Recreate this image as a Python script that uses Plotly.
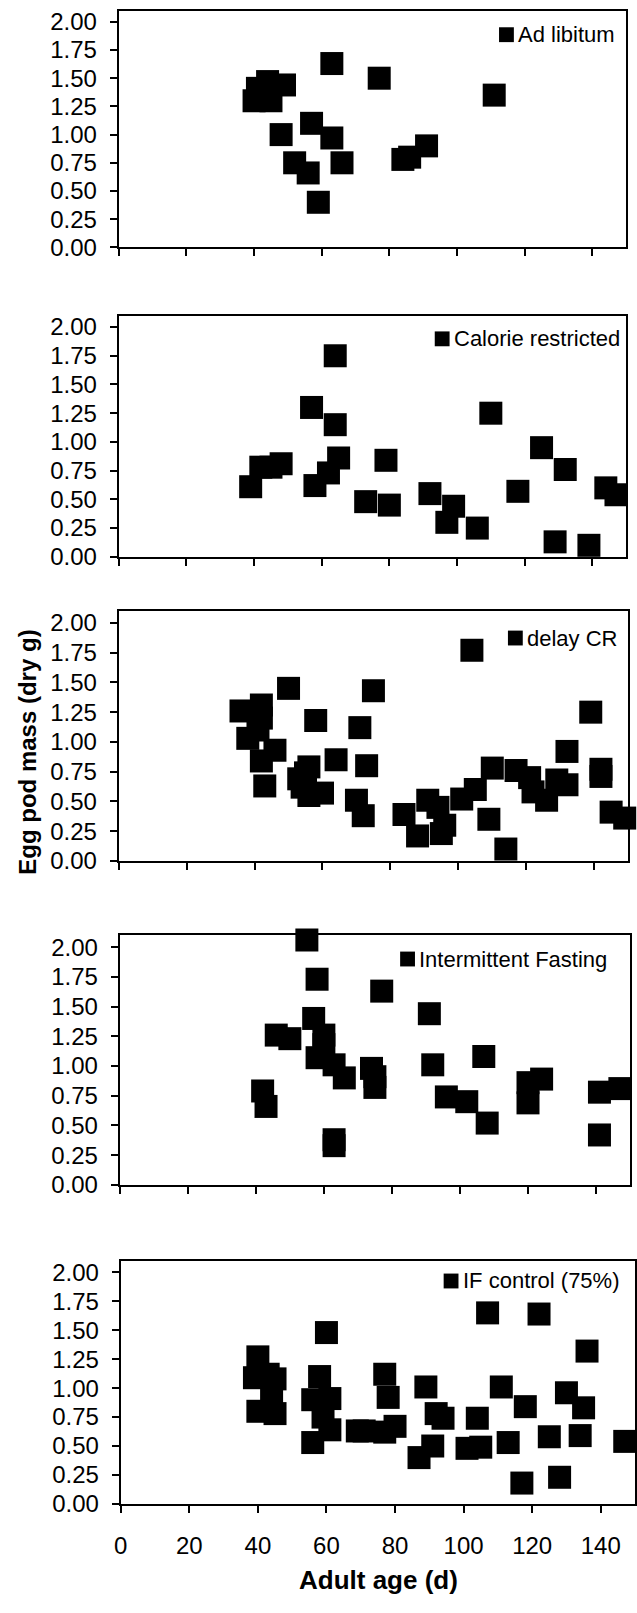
import plotly.graph_objects as go

# ---------------- data ----------------
series_names = ["Ad libitum", "Calorie restricted", "delay CR", "Intermittent Fasting", "IF control (75%)"]

adlib_x = [40, 41, 44, 45, 49, 43, 63, 77, 111, 48, 57, 63, 52, 56, 66, 59, 84, 86, 91]
adlib_y = [1.30, 1.41, 1.47, 1.30, 1.44, 1.36, 1.63, 1.50, 1.35, 1.00, 1.10, 0.97, 0.75, 0.66, 0.75, 0.40, 0.78, 0.80, 0.90]

cr_x = [39, 42, 45, 48, 57, 64, 64, 65, 62, 58, 73, 79, 80, 92, 99, 97, 106, 110, 118, 125, 129, 132, 139, 144, 147]
cr_y = [0.61, 0.78, 0.78, 0.81, 1.30, 1.75, 1.15, 0.86, 0.73, 0.62, 0.48, 0.84, 0.45, 0.55, 0.44, 0.30, 0.25, 1.25, 0.57, 0.95, 0.13, 0.76, 0.10, 0.60, 0.54]

dcr_x = [36, 42, 38, 42, 41, 42, 46, 43, 50, 58, 64, 71, 73, 75, 53, 54, 56, 56, 60, 55, 70, 72,
         104, 84, 88, 91, 94, 96, 95, 101, 105, 109, 110, 114, 117, 121, 122, 126, 129, 132, 132,
         139, 142, 142, 145, 149]
dcr_y = [1.26, 1.31, 1.03, 1.20, 1.10, 0.84, 0.93, 0.63, 1.45, 1.18, 0.85, 1.12, 0.80, 1.43, 0.69, 0.62, 0.79, 0.55, 0.57, 0.74, 0.51, 0.38,
         1.77, 0.39, 0.21, 0.51, 0.45, 0.30, 0.23, 0.52, 0.60, 0.35, 0.78, 0.10, 0.76, 0.70, 0.58, 0.51, 0.68, 0.64, 0.92,
         1.25, 0.77, 0.71, 0.41, 0.36]

if_x = [55, 58, 57, 60, 60, 58, 63, 66, 42, 43, 46, 50, 63, 63, 77, 74, 75, 75, 91, 92, 96, 102, 107, 108, 120, 120, 124, 141, 147, 141]
if_y = [2.06, 1.73, 1.40, 1.26, 1.18, 1.07, 1.01, 0.90, 0.79, 0.66, 1.26, 1.23, 0.38, 0.33, 1.63, 0.98, 0.91, 0.82, 1.44, 1.01, 0.74, 0.70, 1.08, 0.52, 0.86, 0.69, 0.89, 0.78, 0.81, 0.42]

ifc_x = [40, 39, 45, 43, 44, 40, 45, 60, 58, 56, 61, 61, 59, 56, 69, 71, 77, 78, 77, 80, 89, 92, 94, 87, 91,
         101, 105, 104, 107, 122, 111, 113, 118, 117, 125, 128, 130, 135, 136, 134, 147]
ifc_y = [1.27, 1.09, 1.08, 1.12, 0.92, 0.80, 0.78, 1.48, 1.10, 0.90, 0.91, 0.64, 0.75, 0.53, 0.63, 0.63, 1.12, 0.92, 0.62, 0.67, 1.01, 0.78, 0.74, 0.40, 0.50,
         0.48, 0.49, 0.74, 1.65, 1.64, 1.01, 0.53, 0.84, 0.18, 0.58, 0.23, 0.96, 0.83, 1.32, 0.59, 0.54]

xs = [adlib_x, cr_x, dcr_x, if_x, ifc_x]
ys = [adlib_y, cr_y, dcr_y, if_y, ifc_y]

y_ticks = [0, 0.25, 0.5, 0.75, 1.0, 1.25, 1.5, 1.75, 2.0]
x_ticks = [0, 20, 40, 60, 80, 100, 120, 140]

# ---------------- layout geometry (pixels) ----------------
W, H = 637, 1613
# (left, right, top, bottom) of each plot area
boxes = [(113, 626, 8.6, 247.7),
         (113, 626, 316.5, 560),
         (113, 628, 614.7, 867),
         (114, 630, 942, 1194),
         (115, 635, 1270.6, 1516)]
# legend key: (square centre x px, centre y px)
leg_pos = [(505, 33), (440, 340), (514, 642), (405, 966), (449, 1291)]
SQ = 15

FONT = "Liberation Sans, Arial, sans-serif"

fig = go.Figure()
layout = dict(width=W, height=H, margin=dict(l=0, r=0, t=0, b=0),
              paper_bgcolor="white", plot_bgcolor="white", showlegend=False)

shapes = []
annotations = []
for i in range(5):
    n = "" if i == 0 else str(i + 1)
    l, r, t, b = boxes[i]
    fig.add_trace(go.Scatter(
        x=xs[i], y=ys[i], mode="markers", name=series_names[i],
        marker=dict(symbol="square", size=23, color="black", line=dict(width=0)),
        cliponaxis=False, hoverinfo="x+y",
        xaxis="x" + n, yaxis="y" + n,
    ))
    layout["xaxis" + n] = dict(
        domain=[l / W, r / W], range=[0, 150], anchor="y" + n,
        tickmode="array", tickvals=x_ticks, ticktext=[str(v) for v in x_ticks],
        showticklabels=(i == 4), ticks="outside", ticklen=7, tickwidth=2, tickcolor="black",
        showline=True, linewidth=2, linecolor="black", mirror=True,
        showgrid=False, zeroline=False, fixedrange=True,
        tickfont=dict(family=FONT, size=24, color="black"), ticklabelstandoff=12,
    )
    layout["yaxis" + n] = dict(
        domain=[1 - b / H, 1 - t / H], range=[0, 2.1], anchor="x" + n,
        tickmode="array", tickvals=y_ticks, ticktext=["%.2f" % v for v in y_ticks],
        ticks="outside", ticklen=7, tickwidth=2, tickcolor="black",
        showline=True, linewidth=2, linecolor="black", mirror=True,
        showgrid=False, zeroline=False, fixedrange=True,
        tickfont=dict(family=FONT, size=24, color="black"), ticklabelstandoff=8,
    )
    cx, cy = leg_pos[i]
    shapes.append(dict(type="rect", xref="paper", yref="paper",
                       x0=(cx - SQ / 2) / W, x1=(cx + SQ / 2) / W,
                       y0=1 - (cy + SQ / 2) / H, y1=1 - (cy - SQ / 2) / H,
                       fillcolor="black", line=dict(width=0)))
    annotations.append(dict(text=series_names[i], x=(cx + 10) / W, y=1 - cy / H,
                            xref="paper", yref="paper", xanchor="left", yanchor="middle",
                            showarrow=False, font=dict(family=FONT, size=22, color="black")))

annotations += [
    dict(text="<b>Egg pod mass (dry g)</b>", x=21 / W, y=1 - 757 / H, xref="paper", yref="paper",
         textangle=-90, showarrow=False, font=dict(family=FONT, size=24, color="black"),
         xanchor="center", yanchor="middle"),
    dict(text="<b>Adult age (d)</b>", x=376 / W, y=1 - 1593 / H, xref="paper", yref="paper",
         showarrow=False, font=dict(family=FONT, size=26, color="black"),
         xanchor="center", yanchor="middle"),
]
layout["shapes"] = shapes
layout["annotations"] = annotations

fig.update_layout(**layout)
fig.write_html("out.html", config={"displayModeBar": False},
               post_script="document.body.style.margin='0';document.body.style.overflow='hidden';")
